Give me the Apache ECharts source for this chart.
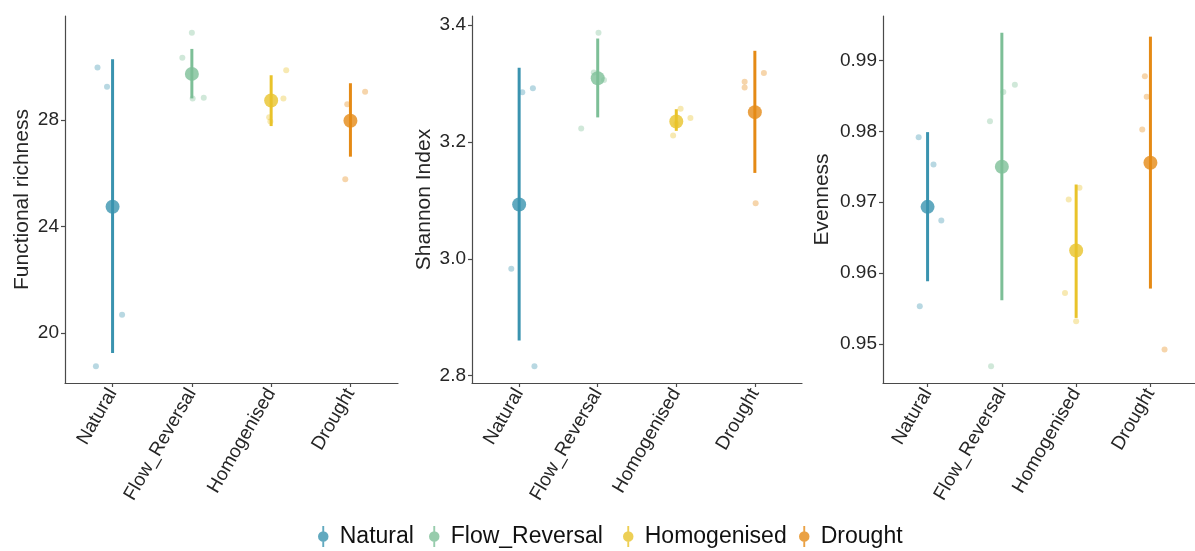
<!DOCTYPE html>
<html>
<head>
<meta charset="utf-8">
<script src="https://cdn.jsdelivr.net/npm/echarts@6/dist/echarts.min.js"></script>
<style>
  html, body { margin: 0; padding: 0; background: #ffffff; }
  #chart { width: 1195px; height: 551px; }
</style>
</head>
<body>
<div id="chart"></div>
<script>
// Treatment groups (x categories, legend entries)
const categories = ['Natural', 'Flow_Reversal', 'Homogenised', 'Drought'];

// Functional richness: group means, interval ends, replicate values and their jitter (category units)
const richnessMean = [24.74, 29.73, 28.73, 27.97];
const richnessLow = [19.24, 28.81, 27.77, 26.62];
const richnessHigh = [30.28, 30.67, 29.68, 29.38];
const richnessPoints = [
  [29.97, 29.25, 20.68, 18.74],
  [31.28, 30.34, 28.81, 28.83],
  [29.87, 28.81, 28.10, 27.94],
  [29.06, 28.59, 25.77]
];
const richnessJitter = [
  [-0.19, -0.07, 0.12, -0.21],
  [0.0, -0.12, 0.01, 0.15],
  [0.19, 0.155, -0.025, -0.01],
  [0.185, -0.04, -0.065]
];
const richnessTicks = [20, 24, 28];

// Shannon index
const shannonMean = [3.093, 3.309, 3.235, 3.251];
const shannonLow = [2.860, 3.242, 3.219, 3.147];
const shannonHigh = [3.327, 3.377, 3.256, 3.356];
const shannonPoints = [
  [3.285, 3.292, 2.983, 2.816],
  [3.387, 3.223, 3.319, 3.306],
  [3.257, 3.241, 3.211, 3.231],
  [3.318, 3.303, 3.293, 3.095]
];
const shannonJitter = [
  [0.04, 0.175, -0.10, 0.195],
  [0.01, -0.21, -0.05, 0.08],
  [0.055, 0.18, -0.04, 0.0],
  [0.115, -0.13, -0.13, 0.01]
];
const shannonTicks = [2.8, 3.0, 3.2, 3.4];

// Evenness
const evenMean = [0.96934, 0.97499, 0.96317, 0.97556];
const evenLow = [0.95884, 0.95616, 0.95367, 0.95781];
const evenHigh = [0.97988, 0.99391, 0.97249, 0.99335];
const evenPoints = [
  [0.97917, 0.97532, 0.96741, 0.95531],
  [0.98143, 0.98553, 0.98657, 0.94684],
  [0.97038, 0.97203, 0.95720, 0.95320],
  [0.98778, 0.98487, 0.98026, 0.94920]
];
const evenJitter = [
  [-0.12, 0.08, 0.185, -0.105],
  [-0.16, 0.02, 0.175, -0.145],
  [-0.10, 0.045, -0.15, 0.0],
  [-0.075, -0.05, -0.11, 0.19]
];
const evenTicks = [0.95, 0.96, 0.97, 0.98, 0.99];

// ---- styling ----
const groupColors = ['#3a93af', '#7dbf97', '#e9c32a', '#e58a15'];
const FONT = '"Liberation Sans", Arial, Helvetica, sans-serif';
const AXIS_COLOR = '#4a4a4a';
const TEXT_COLOR = '#262626';

const panels = [
  { title: 'Functional richness', mean: richnessMean, low: richnessLow, high: richnessHigh,
    pts: richnessPoints, jit: richnessJitter, ticks: richnessTicks, digits: 0,
    grid: { left: 65, top: 16, width: 333, height: 367 }, nameGap: 32 },
  { title: 'Shannon Index', mean: shannonMean, low: shannonLow, high: shannonHigh,
    pts: shannonPoints, jit: shannonJitter, ticks: shannonTicks, digits: 1,
    grid: { left: 472, top: 16, width: 330, height: 367 }, nameGap: 37 },
  { title: 'Evenness', mean: evenMean, low: evenLow, high: evenHigh,
    pts: evenPoints, jit: evenJitter, ticks: evenTicks, digits: 2,
    grid: { left: 883, top: 16, width: 318, height: 367 }, nameGap: 50 }
];

// continuous range padded by 5% on each side
function paddedRange(p) {
  const all = [].concat(...p.pts, p.low, p.high);
  const lo = Math.min(...all), hi = Math.max(...all);
  const pad = (hi - lo) * 0.05;
  return [lo - pad, hi + pad];
}

function withAlpha(hex, a) {
  const n = parseInt(hex.slice(1), 16);
  return 'rgba(' + (n >> 16 & 255) + ',' + (n >> 8 & 255) + ',' + (n & 255) + ',' + a + ')';
}

const grids = [], xAxes = [], yAxes = [], series = [];

panels.forEach((p, k) => {
  grids.push(p.grid);
  xAxes.push({
    gridIndex: k, type: 'value', min: 0.4, max: 4.6,
    axisLine: { show: true, lineStyle: { color: AXIS_COLOR, width: 1.2 } },
    axisTick: { show: true, customValues: [1, 2, 3, 4], length: 4, lineStyle: { color: AXIS_COLOR, width: 1.2 } },
    axisLabel: {
      customValues: [1, 2, 3, 4], rotate: 60, margin: 7,
      fontFamily: FONT, fontSize: 19, color: TEXT_COLOR,
      formatter: v => categories[Math.round(v) - 1]
    },
    splitLine: { show: false }
  });
  const [ymin, ymax] = paddedRange(p);
  yAxes.push({
    gridIndex: k, type: 'value', min: ymin, max: ymax,
    name: p.title, nameLocation: 'middle', nameGap: p.nameGap,
    nameTextStyle: { fontFamily: FONT, fontSize: 21, color: TEXT_COLOR },
    axisLine: { show: true, lineStyle: { color: AXIS_COLOR, width: 1.2 } },
    axisTick: { show: true, customValues: p.ticks, length: 4, lineStyle: { color: AXIS_COLOR, width: 1.2 } },
    axisLabel: {
      customValues: p.ticks, margin: 6,
      fontFamily: FONT, fontSize: 19, color: TEXT_COLOR,
      formatter: v => Number(v).toFixed(p.digits)
    },
    splitLine: { show: false }
  });

  categories.forEach((name, i) => {
    const color = groupColors[i];
    // replicate observations
    series.push({
      type: 'scatter', name, xAxisIndex: k, yAxisIndex: k, z: 2,
      symbolSize: 6, silent: true,
      itemStyle: { color: withAlpha(color, 0.45) },
      data: p.pts[i].map((v, j) => [i + 1 + p.jit[i][j], v])
    });
    // interval bar
    series.push({
      type: 'custom', name, xAxisIndex: k, yAxisIndex: k, z: 3, silent: true,
      encode: { x: 0, y: [1, 2] },
      data: [[i + 1, p.low[i], p.high[i]]],
      renderItem: (params, api) => {
        const a = api.coord([api.value(0), api.value(1)]);
        const b = api.coord([api.value(0), api.value(2)]);
        return {
          type: 'line',
          shape: { x1: a[0], y1: a[1], x2: b[0], y2: b[1] },
          style: { stroke: color, lineWidth: 3 }
        };
      }
    });
    // group mean
    series.push({
      type: 'scatter', name, xAxisIndex: k, yAxisIndex: k, z: 4,
      symbolSize: 14, silent: true,
      itemStyle: { color },
      data: [[i + 1, p.mean[i]]]
    });
  });
});

// legend key: point with a vertical range line
const KEY_ICON = 'path://M4.1,0 L5.9,0 L5.9,20 L4.1,20 Z M0,10 A5,5 0 1,1 10,10 A5,5 0 1,1 0,10 Z';
const legendLeft = [313, 424, 618, 794];
const legends = categories.map((name, i) => ({
  left: legendLeft[i], top: 520, orient: 'horizontal',
  selectedMode: false, icon: KEY_ICON, itemWidth: 11, itemHeight: 21,
  textStyle: { fontFamily: FONT, fontSize: 23, color: '#111', padding: [0, 0, 0, 6] },
  data: [{ name, itemStyle: { color: groupColors[i] } }]
}));

const chart = echarts.init(document.getElementById('chart'), null, { renderer: 'canvas' });
chart.setOption({
  animation: false,
  backgroundColor: '#ffffff',
  grid: grids,
  xAxis: xAxes,
  yAxis: yAxes,
  legend: legends,
  series
});
</script>
</body>
</html>
